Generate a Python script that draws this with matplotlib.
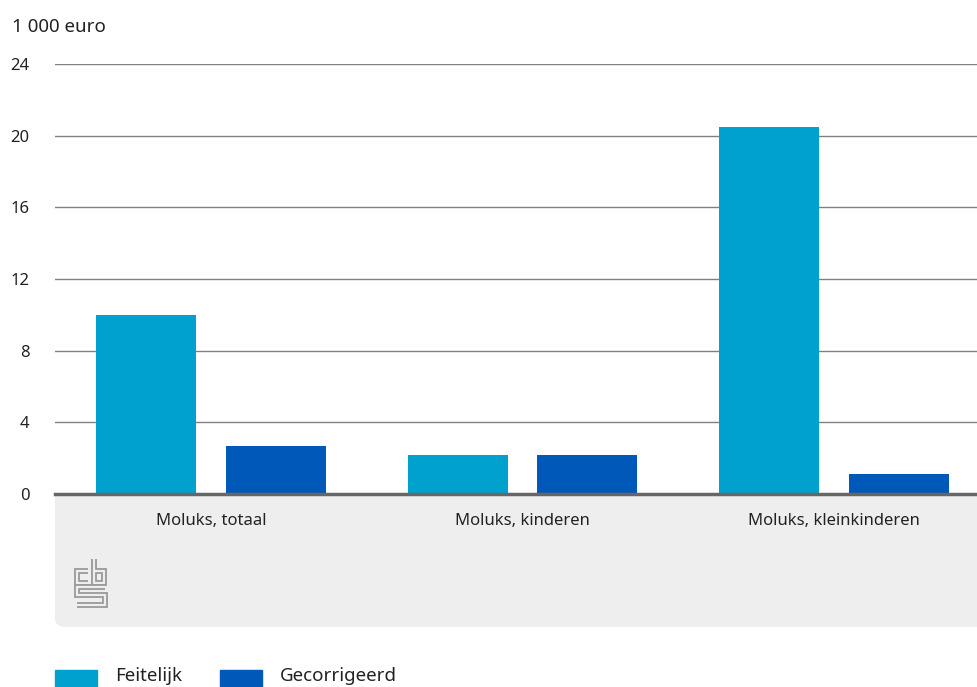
import matplotlib
matplotlib.use("Agg")
import matplotlib.pyplot as plt
from matplotlib.patches import FancyBboxPatch, Rectangle
import numpy as np

categories = ["Moluks, totaal", "Moluks, kinderen", "Moluks, kleinkinderen"]
feitelijk = [10.0, 2.2, 20.5]
gecorrigeerd = [2.7, 2.2, 1.1]
series_names = ["Feitelijk", "Gecorrigeerd"]
yticks = [0, 4, 8, 12, 16, 20, 24]
unit_label = "1 000 euro"

c_feit = "#00a1cd"
c_gec = "#0058b8"
bg_grey = "#eeeeee"

plt.rcParams["font.family"] = ["Noto Sans", "DejaVu Sans"]

W, H = 977, 687
fig = plt.figure(figsize=(W / 100, H / 100), dpi=100)

# grey band under the x axis (rounded corner bottom-left)
band = FancyBboxPatch((55 / W, 1 - 627 / H), 960 / W, (627 - 480) / H,
                      boxstyle="round,pad=0,rounding_size=0.012",
                      transform=fig.transFigure, facecolor=bg_grey,
                      edgecolor="none", zorder=-1)
fig.patches.append(band)

# axes run a little past the right edge of the picture, as in the original
ax = fig.add_axes([55 / W, 1 - 494 / H, (990 - 55) / W, (494 - 64) / H])
ax.set_facecolor("white")

x = np.arange(len(categories))
bw = 0.32
off = 0.208
ax.bar(x - off, feitelijk, bw, color=c_feit, zorder=3)
ax.bar(x + off, gecorrigeerd, bw, color=c_gec, zorder=3)

ax.set_xlim(-0.5, len(categories) - 0.5)
ax.set_ylim(0, 24)
ax.set_yticks(yticks)
ax.set_yticklabels([str(t) for t in yticks], fontsize=12, color="#222222")
ax.yaxis.set_tick_params(length=0, pad=18.5)
for t in ax.get_yticklabels():
    t.set_horizontalalignment("right")
ax.grid(axis="y", color="#808080", linewidth=1, zorder=1)
ax.set_xticks([])
for s in ["top", "right", "left"]:
    ax.spines[s].set_visible(False)
ax.spines["bottom"].set_color("#666666")
ax.spines["bottom"].set_linewidth(2.5)
ax.spines["bottom"].set_zorder(4)

# category labels inside the grey band
for i, c in enumerate(categories):
    ax.text(i, -0.0625, c, transform=ax.get_xaxis_transform(), ha="center",
            va="center", fontsize=12, color="#222222")

fig.text(12 / W, 1 - 27 / H, unit_label, fontsize=13.5, color="#222222",
         va="center", ha="left")

# cbs logo
lax = fig.add_axes([73 / W, 1 - 609 / H, 36 / W, 52 / H])
lax.set_xlim(0, 36)
lax.set_ylim(52, 0)
lax.axis("off")
paths = [
    [(15, 14), (4, 14), (4, 26), (15, 26)],
    [(21, 2), (21, 26), (31, 26), (31, 14), (21, 14)],
    [(32, 30), (4, 30), (4, 38), (32, 38), (32, 48), (4, 48)],
]
for p in paths:
    xs, ys = zip(*p)
    lax.plot(xs, ys, color="#9a9a9a", lw=4.2, solid_joinstyle="miter",
             solid_capstyle="butt")
    lax.plot(xs, ys, color=bg_grey, lw=1.6, solid_joinstyle="miter",
             solid_capstyle="butt")

# legend (swatches run off the bottom edge like the original)
leg_y = 1 - 681 / H
fig.patches.append(Rectangle((55 / W, 1 - 687 / H), 42 / W, 17 / H,
                             transform=fig.transFigure, color=c_feit))
fig.text(115 / W, leg_y, series_names[0], fontsize=13.5, color="#222222",
         va="baseline")
fig.patches.append(Rectangle((220 / W, 1 - 687 / H), 42 / W, 17 / H,
                             transform=fig.transFigure, color=c_gec))
fig.text(280 / W, leg_y, series_names[1], fontsize=13.5, color="#222222",
         va="baseline")

fig.savefig("out.png", dpi=100)
